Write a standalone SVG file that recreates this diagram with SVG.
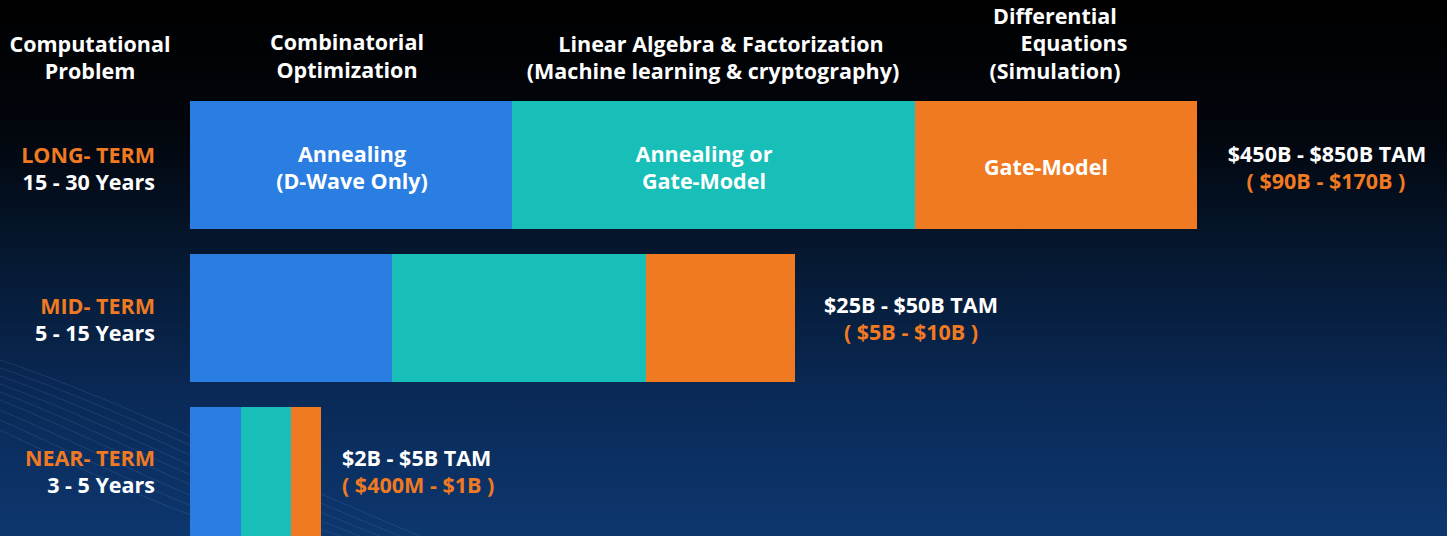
<svg xmlns="http://www.w3.org/2000/svg" width="1447" height="536" viewBox="0 0 1447 536">
<defs>
<linearGradient id="bg" x1="0" y1="0" x2="0" y2="1">
<stop offset="0" stop-color="#000000"/>
<stop offset="0.25" stop-color="#02060d"/>
<stop offset="0.5" stop-color="#061a34"/>
<stop offset="0.75" stop-color="#0a2a58"/>
<stop offset="1" stop-color="#0d376f"/>
</linearGradient>
<style>
text{font-family:"Open Sans","Liberation Sans",sans-serif;font-weight:700;font-size:21.5px;fill:#ffffff}
.c{text-anchor:middle}
.r{text-anchor:end}
.o{fill:#f07a22}
.blue{fill:#2a7de1}
.teal{fill:#17bfb8}
.orange{fill:#f07a22}
.wave{fill:none;stroke:#5b86c0;stroke-width:0.6;stroke-opacity:0.35}
</style>
</defs>
<rect width="1447" height="536" fill="url(#bg)"/>
<g id="waves">
<path class="wave" d="M0,360 C120,400 260,470 420,536"/>
<path class="wave" d="M0,368 C120,408 250,476 400,536"/>
<path class="wave" d="M0,376 C115,416 240,482 380,536"/>
<path class="wave" d="M0,384 C110,424 230,488 360,536"/>
<path class="wave" d="M0,392 C105,432 220,494 340,536"/>
<path class="wave" d="M0,400 C100,440 210,500 320,536"/>
<path class="wave" d="M0,410 C95,450 200,506 300,536"/>
<path class="wave" d="M0,420 C90,460 190,512 280,536"/>
<path class="wave" d="M0,430 C85,470 180,518 260,536"/>
</g>
<g id="headers">
<text class="c" x="90" y="52">Computational</text>
<text class="c" x="90" y="79">Problem</text>
<text class="c" x="347" y="50">Combinatorial</text>
<text class="c" x="347" y="78">Optimization</text>
<text class="c" x="721" y="52">Linear Algebra &amp; Factorization</text>
<text class="c" x="713" y="79">(Machine learning &amp; cryptography)</text>
<text class="c" x="1055" y="24">Differential</text>
<text class="c" x="1074" y="51">Equations</text>
<text class="c" x="1055" y="79">(Simulation)</text>
</g>
<g id="long-term">
<text class="r o" x="155" y="163">LONG- TERM</text>
<text class="r" x="155" y="190">15 - 30 Years</text>
<rect class="blue" x="190" y="101" width="322" height="128"/>
<rect class="teal" x="512" y="101" width="403" height="128"/>
<rect class="orange" x="915" y="101" width="282" height="128"/>
<text class="c" x="352" y="162">Annealing</text>
<text class="c" x="352" y="189">(D-Wave Only)</text>
<text class="c" x="704" y="162">Annealing or</text>
<text class="c" x="704" y="189">Gate-Model</text>
<text class="c" x="1046" y="175">Gate-Model</text>
<text class="c" x="1327" y="162">$450B - $850B TAM</text>
<text class="c o" x="1326" y="189">( $90B - $170B )</text>
</g>
<g id="mid-term">
<text class="r o" x="155" y="314">MID- TERM</text>
<text class="r" x="155" y="341">5 - 15 Years</text>
<rect class="blue" x="190" y="254" width="202" height="128"/>
<rect class="teal" x="392" y="254" width="254" height="128"/>
<rect class="orange" x="646" y="254" width="149" height="128"/>
<text class="c" x="911" y="313">$25B - $50B TAM</text>
<text class="c o" x="911" y="340">( $5B - $10B )</text>
</g>
<g id="near-term">
<text class="r o" x="155" y="466">NEAR- TERM</text>
<text class="r" x="155" y="493">3 - 5 Years</text>
<rect class="blue" x="190" y="407" width="51" height="129"/>
<rect class="teal" x="241" y="407" width="50" height="129"/>
<rect class="orange" x="291" y="407" width="30" height="129"/>
<text x="342" y="466">$2B - $5B TAM</text>
<text class="o" x="342" y="493">( $400M - $1B )</text>
</g>
<g id="connectors"></g>
</svg>
